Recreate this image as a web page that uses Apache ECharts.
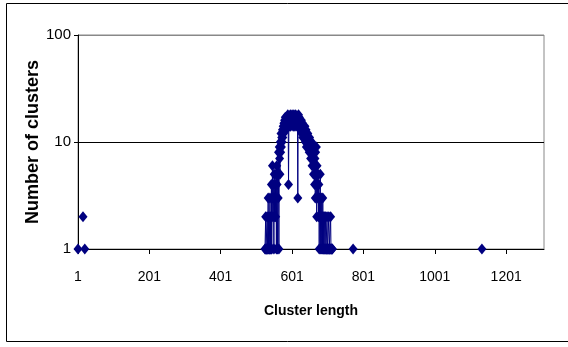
<!DOCTYPE html>
<html>
<head>
<meta charset="utf-8">
<script src="https://cdn.jsdelivr.net/npm/echarts@6/dist/echarts.min.js"></script>
<style>html,body{margin:0;padding:0;background:#fff}#c{width:568px;height:347px}</style>
</head>
<body>
<div id="c"></div>
<script>
// isolated cluster lengths and their counts
const isolatedLengths = [1, 15, 20, 772, 1133];
const isolatedCounts = [1, 2, 1, 1, 1];
// main group: consecutive cluster lengths starting at 525
const mainStart = 525;
const mainCounts = [
  1,1,2,1,1,1,2,1,1,3,
  1,2,1,1,3,1,2,1,4,1,
  3,6,2,4,3,1,5,2,3,4,
  2,5,1,6,4,1,5,3,8,1,
  9,7,5,10,8,12,9,11,10,13,
  11,14,12,15,13,16,14,17,15,13,
  16,14,17,15,18,16,4,14,17,15,
  16,18,14,17,15,16,18,15,17,14,
  16,18,15,17,14,16,18,15,17,16,
  14,17,3,16,18,15,17,14,16,13,
  15,13,16,12,14,15,11,13,14,12,
  13,11,14,10,12,13,9,12,11,10,
  12,9,11,10,8,11,9,10,7,9,
  8,10,6,9,7,8,5,9,6,4,
  7,3,8,5,9,2,6,4,3,5,
  2,4,1,3,2,5,1,2,3,1,
  2,1,3,1,2,1,1,2,1,1,
  2,1,1,1,2,1,1,1,1,2,
  1,1,1,1,2,1,1,1,1,1
];
const xTickLabels = ['1','201','401','601','801','1001','1201'];
const yTickLabels = ['1','10','100'];

// build point list
const pts = [];
isolatedLengths.forEach((l, i) => pts.push([l, isolatedCounts[i]]));
mainCounts.forEach((v, i) => pts.push([mainStart + i, v]));
pts.sort((a, b) => a[0] - b[0]);
const data = [];
for (let i = 0; i < pts.length; i++) {
  if (i > 0 && pts[i][0] - pts[i - 1][0] > 1) data.push([pts[i - 1][0] + 1, '-']);
  data.push(pts[i]);
}

const chart = echarts.init(document.getElementById('c'), null, {renderer: 'canvas'});
const font = '"Liberation Sans", Arial, sans-serif';
chart.setOption({
  animation: false,
  backgroundColor: '#fff',
  graphic: [{
    type: 'rect', shape: {x: 6.5, y: 3.5, width: 580, height: 338},
    style: {fill: 'none', stroke: '#000', lineWidth: 1}, z: 0
  }],
  grid: {left: 78, top: 35, right: 24, bottom: 98, show: true, borderColor: '#888', borderWidth: 1},
  xAxis: {
    type: 'value', min: 1, max: 1307, interval: 200,
    axisLine: {lineStyle: {color: '#000', width: 1}},
    axisTick: {show: true, length: 5, lineStyle: {color: '#000'}},
    splitLine: {show: false},
    axisLabel: {
      color: '#000', fontFamily: font, fontSize: 14, margin: 21,
      showMaxLabel: false,
      formatter: v => { const s = String(v); return xTickLabels.indexOf(s) >= 0 ? s : ''; }
    },
    name: 'Cluster length', nameLocation: 'middle', nameGap: 55, nameMoveOverlap: false,
    nameTextStyle: {color: '#000', fontFamily: font, fontSize: 14, fontWeight: 'bold'}
  },
  yAxis: {
    type: 'log', logBase: 10, min: 1, max: 100,
    axisLine: {show: true, lineStyle: {color: '#000', width: 1}},
    axisTick: {show: true, length: 4, lineStyle: {color: '#000'}},
    splitLine: {show: true, lineStyle: {color: ['#000', '#000', '#888'], width: 1}},
    axisLabel: {
      color: '#000', fontFamily: font, fontSize: 15, margin: 7,
      formatter: v => { const s = String(Math.round(v)); return yTickLabels.indexOf(s) >= 0 ? s : ''; }
    },
    name: 'Number of clusters', nameLocation: 'middle', nameGap: 36, nameRotate: 90, nameMoveOverlap: false,
    nameTextStyle: {color: '#000', fontFamily: font, fontSize: 18, fontWeight: 'bold'}
  },
  series: [{
    type: 'line', data: data, connectNulls: false, clip: false,
    symbol: 'diamond', symbolSize: [9, 11], showAllSymbol: true,
    lineStyle: {color: '#000080', width: 1},
    itemStyle: {color: '#000080'},
    z: 5
  }]
});
</script>
</body>
</html>
